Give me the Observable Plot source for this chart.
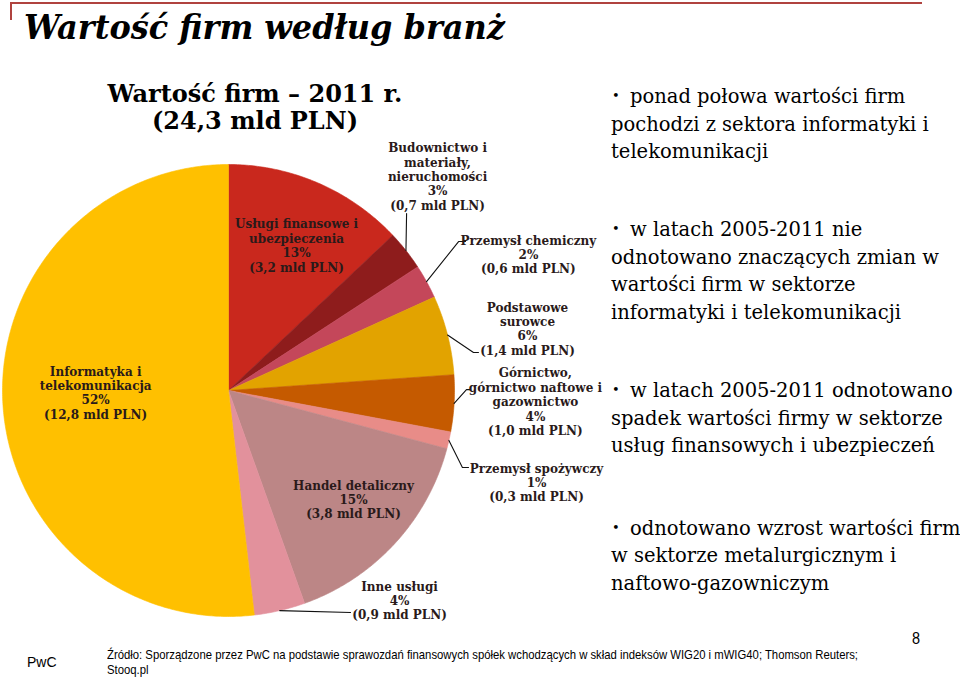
<!DOCTYPE html>
<html><head><meta charset="utf-8">
<script src="https://cdn.jsdelivr.net/npm/d3@7"></script>
<script src="https://cdn.jsdelivr.net/npm/@observablehq/plot@0.6"></script>
<style>
body{margin:0;background:#fff;}
#page{position:relative;width:960px;height:677px;overflow:hidden;background:#fff;}
#chart svg{position:absolute;left:0;top:0;}
.t{position:absolute;white-space:pre;color:#000;}
#title{left:24px;top:10px;font:italic bold 34px "DejaVu Serif",serif;line-height:1;transform:scaleX(0.94);transform-origin:0 0;}
#sub{left:105px;top:80px;width:300px;text-align:center;font:bold 24px "DejaVu Serif",serif;line-height:27px;}
.b{font:19.5px "DejaVu Serif",serif;line-height:27.5px;}
.dot{font:13px "DejaVu Serif",serif;}
#pwc{left:27px;top:654px;font:14px "Liberation Sans",Arial,sans-serif;}
#src{left:107px;top:647px;font:13px "Liberation Sans",sans-serif;line-height:15px;transform:scaleX(0.87);transform-origin:0 0;}
#pg{left:912px;top:629px;font:17px "Liberation Sans",sans-serif;transform:scaleX(0.85);transform-origin:0 0;}
#bt{position:absolute;left:10px;top:2px;width:910px;height:16px;border-top:2px solid #B0433F;border-left:2px solid #B0433F;}
</style></head><body>
<div id="page">
<div id="chart"></div>
<div id="bt"></div>
<div class="t" id="title">Wartość firm według branż</div>
<div class="t" id="sub">Wartość firm – 2011 r.
(24,3 mld PLN)</div>

<div class="t dot" style="left:612px;top:88px">•</div>
<div class="t b" style="left:630px;top:83px">ponad połowa wartości firm</div>
<div class="t b" style="left:611px;top:110.5px">pochodzi z sektora informatyki i
telekomunikacji</div>

<div class="t dot" style="left:612px;top:221px">•</div>
<div class="t b" style="left:630px;top:216px">w latach 2005-2011 nie</div>
<div class="t b" style="left:611px;top:243.5px">odnotowano znaczących zmian w
wartości firm w sektorze
informatyki i telekomunikacji</div>

<div class="t dot" style="left:612px;top:382px">•</div>
<div class="t b" style="left:630px;top:377px">w latach 2005-2011 odnotowano</div>
<div class="t b" style="left:611px;top:404.5px">spadek wartości firmy w sektorze
usług finansowych i ubezpieczeń</div>

<div class="t dot" style="left:612px;top:520px">•</div>
<div class="t b" style="left:630px;top:515px">odnotowano wzrost wartości firm</div>
<div class="t b" style="left:611px;top:542px">w sektorze metalurgicznym i
naftowo-gazowniczym</div>

<div class="t" id="pwc">PwC</div>
<div class="t" id="src">Źródło: Sporządzone przez PwC na podstawie sprawozdań finansowych spółek wchodzących w skład indeksów WIG20 i mWIG40; Thomson Reuters;
Stooq.pl</div>
<div class="t" id="pg">8</div>
</div>
<script>
// ---- data ----
const sectors = [
  "Usługi finansowe i ubezpieczenia",
  "Budownictwo i materiały, nieruchomości",
  "Przemysł chemiczny",
  "Podstawowe surowce",
  "Górnictwo, górnictwo naftowe i gazownictwo",
  "Przemysł spożywczy",
  "Handel detaliczny",
  "Inne usługi",
  "Informatyka i telekomunikacja"
];
const labelLines = [
  "Usługi finansowe i\nubezpieczenia",
  "Budownictwo i\nmateriały,\nnieruchomości",
  "Przemysł chemiczny",
  "Podstawowe\nsurowce",
  "Górnictwo,\ngórnictwo naftowe i\ngazownictwo",
  "Przemysł spożywczy",
  "Handel detaliczny",
  "Inne usługi",
  "Informatyka i\ntelekomunikacja"
];
const valuesMld = [3.2, 0.7, 0.6, 1.4, 1.0, 0.3, 3.8, 0.9, 12.8];
const percents = [13, 3, 2, 6, 4, 1, 15, 4, 52];
const colors = ["#C9281D", "#8E1C1C", "#C4475A", "#E2A300", "#C55A00", "#E88C88", "#BC8686", "#E2919C", "#FFC000"];

// ---- layout (unit-circle coordinates) ----
const labelPos = [
  [0.301, 0.642], [0.925, 0.947], [1.327, 0.602], [1.323, 0.274],
  [1.358, -0.049], [1.363, -0.407], [0.553, -0.482], [0.757, -0.929], [-0.588, -0.009]
];
const leaderPath = [
  null,
  [[0.788, 0.783]],
  [[1.018, 0.659], [1.049, 0.659]],
  [[1.084, 0.168], [1.106, 0.168]],
  [[1.053, 0.004], [1.071, 0.004]],
  [[1.035, -0.341], [1.062, -0.341]],
  null,
  [[0.540, -0.982]],
  null
];

const rows = sectors.map((s, i) => ({name: s, value: valuesMld[i], pct: percents[i], i}));
const arcs = d3.pie().sort(null).value(d => d.value)(rows);

const slicePts = arcs.flatMap(a => {
  const n = Math.max(6, Math.ceil((a.endAngle - a.startAngle) / 0.01));
  const pts = [{name: a.data.name, x: 0, y: 0}];
  for (let k = 0; k <= n; k++) {
    const t = a.startAngle + (a.endAngle - a.startAngle) * k / n;
    pts.push({name: a.data.name, x: Math.sin(t), y: Math.cos(t)});
  }
  pts.push({name: a.data.name, x: 0, y: 0});
  return pts;
});

const fmt = v => v.toFixed(1).replace(".", ",");
const labels = rows.map((r, i) => ({
  x: labelPos[i][0], y: labelPos[i][1],
  text: `${labelLines[i]}\n${r.pct}%\n(${fmt(r.value)} mld PLN)`
}));

const leaders = arcs.flatMap((a, i) => {
  if (!leaderPath[i]) return [];
  const m = (a.startAngle + a.endAngle) / 2;
  return [{name: a.data.name, x: Math.sin(m), y: Math.cos(m)},
          ...leaderPath[i].map(p => ({name: a.data.name, x: p[0], y: p[1]}))];
});

const chart = Plot.plot({
  width: 960, height: 677,
  x: {domain: [-1, 1], range: [2, 454], axis: null},
  y: {domain: [-1, 1], range: [616, 164], axis: null},
  color: {domain: sectors, range: colors},
  style: {background: "transparent"},
  marks: [
    Plot.line(slicePts, {x: "x", y: "y", z: "name", fill: "name", stroke: "name", strokeWidth: 0.6, curve: "linear"}),
    Plot.line(leaders, {x: "x", y: "y", z: "name", stroke: "#111", strokeWidth: 1.1}),
    Plot.text(labels, {x: "x", y: "y", text: "text", fontSize: 12, fontWeight: "bold",
      fontFamily: "DejaVu Serif, serif", lineHeight: 1.2, textAnchor: "middle", fill: "#2a1a1a"})
  ]
});
document.getElementById("chart").appendChild(chart);
</script>
</body></html>
